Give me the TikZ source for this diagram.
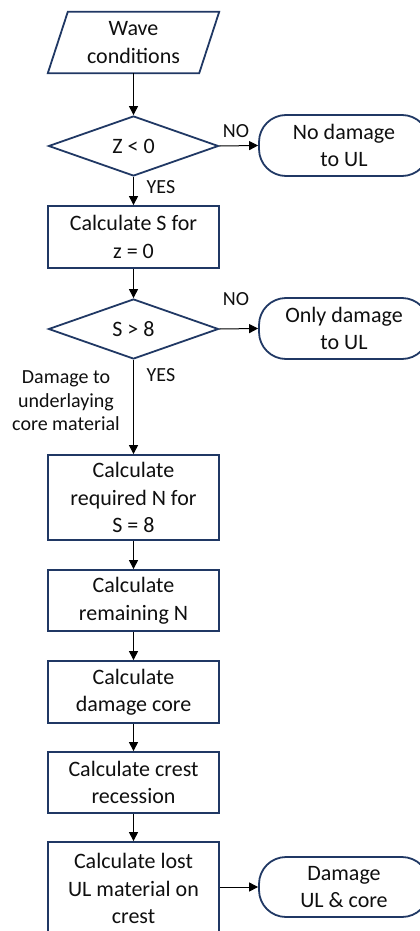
\documentclass[tikz,border=0pt]{standalone}
\usepackage{fontspec}
\setmainfont{Carlito}
\usetikzlibrary{shapes.geometric,arrows.meta}
\definecolor{navy}{RGB}{32,56,100}
\definecolor{ink}{RGB}{15,15,15}
\tikzset{
  outline/.style={draw=navy, line width=1.8pt},
  txt/.style={text=ink, align=center, font=\fontsize{22}{27.5}\selectfont},
  procbox/.style={outline, txt, rectangle, minimum width=171pt, inner sep=0pt},
  decision/.style={outline, txt, diamond, minimum width=170pt, minimum height=60pt, inner sep=0pt},
  terminal/.style={outline, txt, rectangle, rounded corners=27pt, minimum width=170pt, minimum height=61pt, inner sep=0pt},
  iobox/.style={txt, rectangle, minimum width=151pt, minimum height=61pt, inner sep=0pt},
  flow/.style={draw=black, line width=1pt, -{Triangle[length=9pt,width=9pt]}},
  lbl/.style={text=ink, align=center, inner sep=0pt, font=\fontsize{20}{23.5}\selectfont},
}
\begin{document}
\begin{tikzpicture}[x=1pt, y=-1pt]
\useasboundingbox (0,0) rectangle (420,931);

% input: wave conditions (parallelogram drawn from the node's corners)
\node[iobox] (wave) at (133.5,42.5) {Wave\\conditions};
\draw[outline, line join=miter]
  ([xshift=10pt]wave.north west) -- ([xshift=10pt]wave.north east)
  -- ([xshift=-10pt]wave.south east) -- ([xshift=-10pt]wave.south west) -- cycle;

% first check
\node[decision] (d1) at (133.5,146) {Z < 0};
\node[terminal] (t1) at (344,145.5) {No damage\\to UL};

\node[procbox, minimum height=62pt] (b1) at (133.5,237) {Calculate S for\\z = 0};

% second check
\node[decision] (d2) at (133.5,329) {S > 8};
\node[terminal] (t2) at (344,328.5) {Only damage\\to UL};

% core damage chain
\node[procbox, minimum height=85pt] (b2) at (133.5,497.5) {Calculate\\required N for\\S = 8};
\node[procbox, minimum height=61pt] (b3) at (133.5,600.5) {Calculate\\remaining N};
\node[procbox, minimum height=62pt] (b4) at (133.5,692) {Calculate\\damage core};
\node[procbox, minimum height=61pt] (b5) at (133.5,782.5) {Calculate crest\\recession};
\node[procbox, minimum height=93pt] (b6) at (133.5,888.5) {Calculate lost\\UL material on\\crest};
\node[terminal, minimum height=60pt] (t3) at (344,887) {Damage\\UL \& core};

% labels
\node[lbl] (no1) at (236,131) {NO};
\node[lbl] (yes1) at (161,187) {YES};
\node[lbl] (no2) at (236,299) {NO};
\node[lbl] (yes2) at (161,375) {YES};
\node[lbl] (note) at (66,401) {Damage to\\underlaying\\core material};

% connectors
\draw[flow] (wave.south) -- (d1.north);
\draw[flow] (d1.east) -- (t1.west);
\draw[flow] (d1.south) -- (b1.north);
\draw[flow] (b1.south) -- (d2.north);
\draw[flow] (d2.east) -- (t2.west);
\draw[flow] (d2.south) -- (b2.north);
\draw[flow] (b2.south) -- (b3.north);
\draw[flow] (b3.south) -- (b4.north);
\draw[flow] (b4.south) -- (b5.north);
\draw[flow] (b5.south) -- (b6.north);
\draw[flow] (b6.east |- t3.west) -- (t3.west);
\end{tikzpicture}
\end{document}
